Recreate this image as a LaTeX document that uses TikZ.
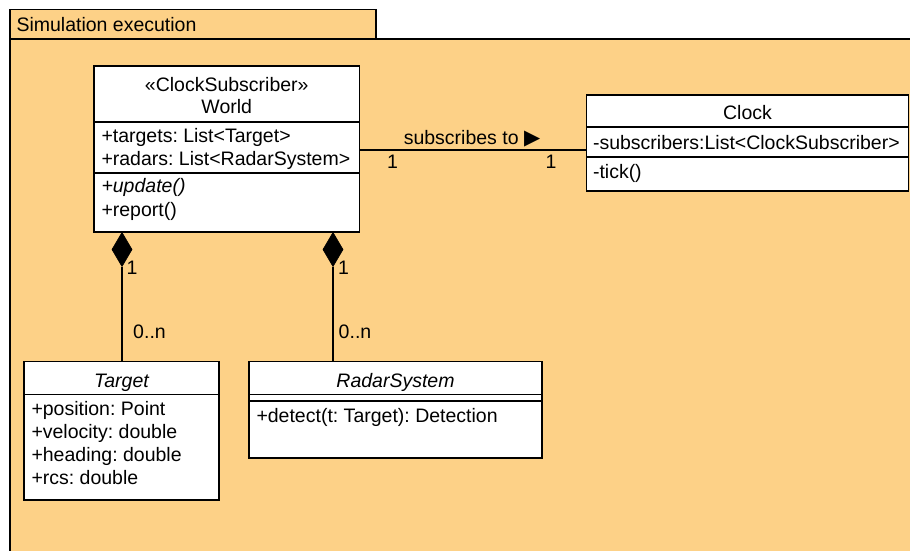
\documentclass[tikz,border=0pt]{standalone}
\usepackage{fontspec}
\setmainfont{Liberation Sans}
\newfontfamily\symfont{DejaVu Sans}
\usetikzlibrary{shapes.geometric}
\definecolor{pkgfill}{HTML}{FDD187}
\frenchspacing
\begin{document}
\begin{tikzpicture}[x=1pt,y=-1pt,
  every node/.style={font=\fontsize{19.5}{23}\selectfont, inner sep=0pt, outer sep=0pt},
  classbox/.style={draw, fill=white, line width=1.2pt, anchor=north west, rectangle},
  divider/.style={line width=1.1pt},
  txt/.style={anchor=base west},
  ctxt/.style={anchor=base},
  assoc/.style={line width=1.1pt},
  compo/.style={diamond, fill=black, draw=black, line width=0.6pt, minimum width=20pt, minimum height=34pt, anchor=north},
  mult/.style={anchor=center}]
  \useasboundingbox (0,0) rectangle (910,551);
  \clip (0,0) rectangle (910,551);

  % package frame: name tab and body
  \fill[white] (0,0) rectangle (910,551);
  \draw[fill=pkgfill, line width=1.4pt] (10,39) rectangle (920,560);
  \draw[fill=pkgfill, line width=1.4pt] (10,9.5) rectangle (376,39);
  \node[txt] (pkgname) at (16.5,31.5) {Simulation execution};

  % World
  \node[classbox, minimum width=265.5pt, minimum height=166pt] (world) at (94,66) {};
  \draw[divider] (world.west |- 0,122) -- (world.east |- 0,122);
  \draw[divider] (world.west |- 0,173) -- (world.east |- 0,173);
  \node[ctxt] (wst) at (world.north |- 0,92) {«ClockSubscriber»};
  \node[ctxt] (wname) at (world.north |- 0,113) {World};
  \node[txt] (wa1) at (101.5,142) {+targets: List<Target>};
  \node[txt] (wa2) at (101.5,165) {+radars: List<RadarSystem>};
  \node[txt] (wo1) at (101.5,192) {\itshape +update()};
  \node[txt] (wo2) at (101.5,216) {+report()};

  % Clock
  \node[classbox, minimum width=322pt, minimum height=96pt] (clock) at (586.5,95) {};
  \draw[divider] (clock.west |- 0,127) -- (clock.east |- 0,127);
  \draw[divider] (clock.west |- 0,157) -- (clock.east |- 0,157);
  \node[ctxt] (cname) at (clock.north |- 0,119) {Clock};
  \node[txt] (ca1) at (593,149) {-subscribers:List<ClockSubscriber>};
  \node[txt] (co1) at (593,178.5) {-tick()};

  % Target
  \node[classbox, minimum width=195pt, minimum height=138.5pt] (target) at (24,361.5) {};
  \draw[divider] (target.west |- 0,394.5) -- (target.east |- 0,394.5);
  \node[ctxt] (tname) at (target.north |- 0,387) {\itshape Target};
  \node[txt] (ta1) at (31.5,415) {+position: Point};
  \node[txt] (ta2) at (31.5,438) {+velocity: double};
  \node[txt] (ta3) at (31.5,461) {+heading: double};
  \node[txt] (ta4) at (31.5,484) {+rcs: double};

  % RadarSystem
  \node[classbox, minimum width=293pt, minimum height=96.5pt] (radar) at (249,361.5) {};
  \draw[divider] (radar.west |- 0,394.5) -- (radar.east |- 0,394.5);
  \draw[divider] (radar.west |- 0,401) -- (radar.east |- 0,401);
  \node[ctxt] (rname) at (radar.north |- 0,387) {\itshape RadarSystem};
  \node[txt] (ro1) at (256.5,422) {+detect(t: Target): Detection};

  % association World -- Clock
  \draw[assoc] (world.east |- 0,150) -- (clock.west |- 0,150);
  \node[ctxt] (alabel) at (472,144) {subscribes to {\symfont\fontsize{21}{21}\selectfont ▶}};
  \node[mult] (am1) at (392.5,162) {1};
  \node[mult] (am2) at (551,162) {1};

  % compositions World <>-- Target, World <>-- RadarSystem
  \node[compo] (d1) at (122,232.5) {};
  \draw[assoc] (d1.south) -- (d1.south |- target.north);
  \node[mult] (d1m1) at (132,268) {1};
  \node[mult] (d1m2) at (149.5,332) {0..n};

  \node[compo] (d2) at (333,232.5) {};
  \draw[assoc] (d2.south) -- (d2.south |- radar.north);
  \node[mult] (d2m1) at (343.5,268) {1};
  \node[mult] (d2m2) at (355,332) {0..n};
\end{tikzpicture}
\end{document}
